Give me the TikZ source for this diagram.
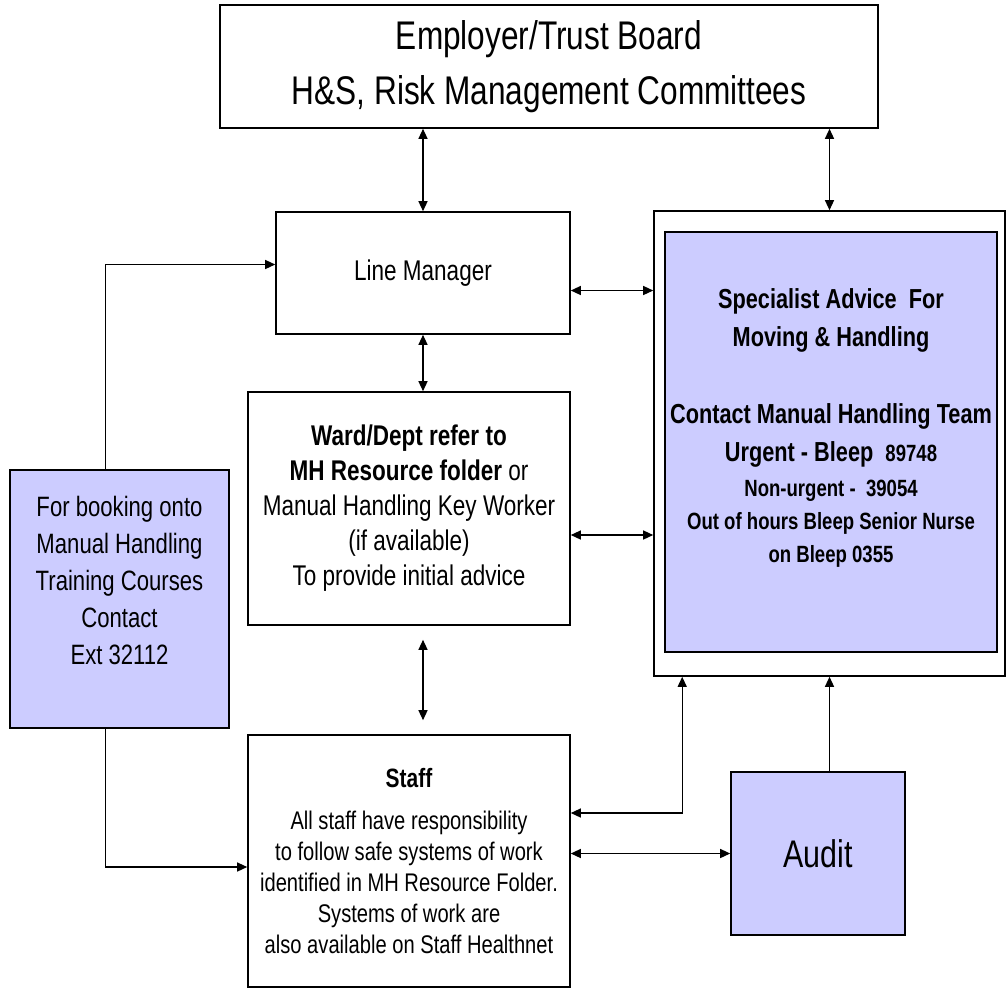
\documentclass[tikz,border=0pt]{standalone}
\usepackage{fontspec}
\setmainfont{Liberation Sans}[FakeStretch=0.79]
\usepackage{xcolor}
\usepackage{tikz}
\usetikzlibrary{positioning,arrows.meta}
\definecolor{mhlilac}{RGB}{204,204,255}

\begin{document}
\begin{tikzpicture}[
    x=1pt, y=-1pt,
    plain_box/.style={draw, line width=1.6pt, align=center, inner sep=0pt, fill=white},
    lilac_box/.style={plain_box, fill=mhlilac},
    arrow/.style={-{Triangle[length=10pt,width=9pt]}, line width=1.3pt},
    dblarrow/.style={{Triangle[length=10pt,width=9pt]}-{Triangle[length=10pt,width=9pt]}, line width=1.3pt}
]
\useasboundingbox (0,0) rectangle (1008,991);

\node (board) [plain_box, minimum width=658pt, minimum height=123pt,
    font=\fontsize{40}{55}\selectfont] at (549,66.5)
    {Employer/Trust Board\\ H\&S, Risk Management Committees};

\node (lm) [plain_box, minimum width=294pt, minimum height=122pt,
    font=\fontsize{28.5}{35}\selectfont] at (423,273)
    {Line Manager};

\node (frame) [plain_box, minimum width=351pt, minimum height=465pt] at (829.5,443.5) {};

\node (spec) [lilac_box, minimum width=332pt, minimum height=420pt,
    font=\fontsize{27.5}{33}\selectfont\bfseries] at (831,442)
    {Specialist Advice\ \ For\\[5pt]
     Moving \& Handling\\[44pt]
     Contact Manual Handling Team\\[5pt]
     Urgent - Bleep\ \ {\fontsize{23.5}{33}\selectfont 89748}\\[2pt]
     {\fontsize{23.5}{33}\selectfont Non-urgent -\ \ 39054}\\
     {\fontsize{23.5}{33}\selectfont Out of hours Bleep Senior Nurse}\\
     {\fontsize{23.5}{33}\selectfont on Bleep 0355}\\ \mbox{}};

\node (ward) [plain_box, minimum width=322pt, minimum height=233pt,
    font=\fontsize{28.5}{35}\selectfont] at (409,508.5)
    {\textbf{Ward/Dept refer to}\\
     \textbf{MH Resource folder} or\\
     Manual Handling Key Worker\\
     (if available)\\
     To provide initial advice};

\node (staff) [plain_box, minimum width=322pt, minimum height=252pt,
    font=\fontsize{25.5}{31}\selectfont] at (409,861)
    {{\fontsize{26.5}{31}\selectfont\bfseries Staff}\\[11pt]
     All staff have responsibility\\
     to follow safe systems of work\\
     identified in MH Resource Folder.\\
     Systems of work are\\
     also available on Staff Healthnet};

\node (audit) [lilac_box, minimum width=174pt, minimum height=163pt,
    font=\fontsize{38.5}{40}\selectfont] at (818,853.5)
    {Audit};

\node (booking) [lilac_box, minimum width=219pt, minimum height=258pt,
    font=\fontsize{28}{37}\selectfont] at (119.5,599)
    {For booking onto\\
     Manual Handling\\
     Training Courses\\
     Contact\\
     Ext 32112\\ \mbox{}};

\draw [dblarrow] (board.south -| lm.north) -- (lm.north);
\draw [dblarrow] (board.south -| frame.north) -- (frame.north);
\draw [dblarrow] ([yshift=-17.5pt]lm.east) -- ([yshift=-17.5pt]lm.east -| frame.west);
\draw [dblarrow] (lm.south) -- (lm.south |- ward.north);
\draw [dblarrow] ([yshift=-26.5pt]ward.east) -- ([yshift=-26.5pt]ward.east -| frame.west);
\draw [dblarrow, shorten <=14pt, shorten >=14pt] (lm.south |- ward.south) -- (lm.south |- staff.north);
\draw [dblarrow] ([yshift=48pt]staff.east) -| ([xshift=29pt]frame.south west);
\draw [dblarrow] (staff.east |- audit.west) -- (audit.west);
\draw [arrow] (frame.south |- audit.north) -- (frame.south);
\draw [arrow] ([xshift=-14pt]booking.north) |- ([yshift=8.5pt]lm.west);
\draw [arrow] ([xshift=-14pt]booking.south) |- ([yshift=-6pt]staff.west);

\end{tikzpicture}
\end{document}
